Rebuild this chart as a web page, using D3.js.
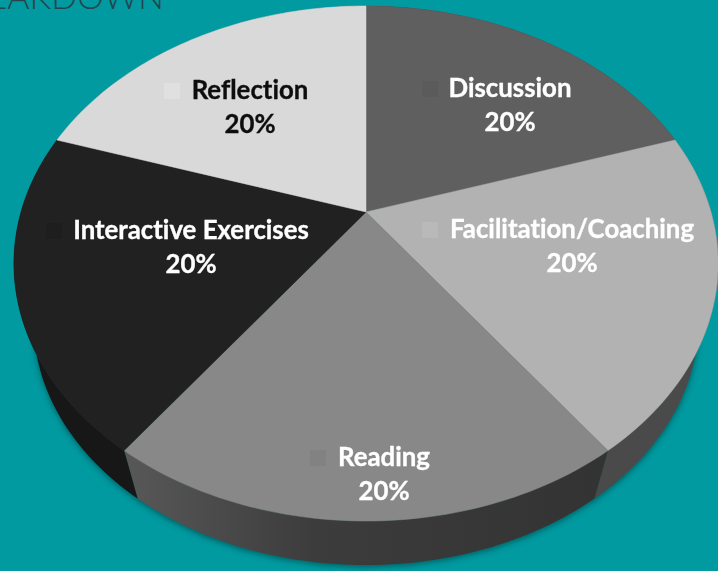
<!DOCTYPE html>
<html>
<head>
<meta charset="utf-8">
<script src="https://cdn.jsdelivr.net/npm/d3@7"></script>
<style>
  html, body { margin: 0; padding: 0; background: #019aa0; overflow: hidden; }
  text { font-family: Lato, "Open Sans", sans-serif; font-variant-ligatures: none; }
  .label { font-weight: 700; font-size: 25.8px; text-anchor: middle; stroke-width: 0.35px; }
</style>
</head>
<body>
<svg id="chart" width="718" height="571"></svg>
<script>
// values, clockwise from 12 o'clock
const categories = ["Discussion", "Facilitation/Coaching", "Reading", "Interactive Exercises", "Reflection"];
const shares = [20, 20, 20, 20, 20];

const topColors = ["#5f5f5f", "#b2b2b2", "#888888", "#212121", "#d9d9d9"];
const keyColors = ["#5b5b5b", "#b9b9b9", "#828282", "#1e1e1e", "#e0e0e0"];
const sideColors = ["#3a3a3a", "#4a4a4a", "url(#readingSide)", "#171717", "#777777"];
const textColors = ["#ffffff", "#ffffff", "#ffffff", "#ffffff", "#111111"];

// label centres, picked by eye
const labelX = [510, 572, 384, 191, 250];
const labelY = [97, 238, 466, 239, 99];
const keyOffset = [-88, -150, -74, -145, -86];

const svg = d3.select("#chart");
const defs = svg.append("defs");

const grad = defs.append("linearGradient")
    .attr("id", "readingSide")
    .attr("gradientUnits", "userSpaceOnUse")
    .attr("x1", 125).attr("x2", 600)
    .attr("y1", 0).attr("y2", 0);
grad.selectAll("stop")
    .data([[0, "#585858"], [0.4, "#3c3c3c"], [1, "#333333"]])
    .join("stop")
    .attr("offset", d => d[0])
    .attr("stop-color", d => d[1]);

defs.append("filter")
    .attr("id", "soft")
    .attr("x", "-10%").attr("y", "-10%").attr("width", "120%").attr("height", "120%")
    .append("feGaussianBlur")
    .attr("stdDeviation", 3);

defs.append("filter")
    .attr("id", "textSoft")
    .attr("x", "-10%").attr("y", "-30%").attr("width", "120%").attr("height", "160%")
    .append("feGaussianBlur")
    .attr("stdDeviation", 0.45);

// the pie is tilted with perspective, so map the flat circle through a projection
const cx = 366, cy = 212, rx = 345, ry = 247.2, tilt = -0.2;
function face(a) {
    const u = Math.sin(a), v = -Math.cos(a);
    const w = 1 + tilt * v;
    return [cx + rx * u / w, cy + ry * v / w];
}
// bottom rim: top rim pulled toward the vanishing point
const vanishY = 1307, depth = 0.944;
function rim(a) {
    const p = face(a);
    return [cx + (p[0] - cx) * depth, vanishY + (p[1] - vanishY) * depth];
}

const pie = d3.pie().sort(null);
const arcs = pie(shares);
const line = d3.line();

function sweep(d, fn) {
    const n = 60;
    return d3.range(n + 1).map(i => fn(d.startAngle + (d.endAngle - d.startAngle) * i / n));
}

// shadow on the background
svg.append("path")
    .attr("d", line(sweep({startAngle: 0, endAngle: 2 * Math.PI}, rim)) + "Z")
    .attr("transform", "translate(0, 2)")
    .style("fill", "#00484c")
    .style("opacity", 0.8)
    .style("filter", "url(#soft)");

// side walls
svg.append("g").selectAll("path.side")
    .data(arcs)
    .join("path")
    .classed("side", true)
    .attr("d", d => line(sweep(d, face).concat(sweep(d, rim).reverse())) + "Z")
    .style("fill", d => sideColors[d.index]);

// top face
svg.append("g").selectAll("path.slice")
    .data(arcs)
    .join("path")
    .classed("slice", true)
    .attr("d", d => line([[cx, cy]].concat(sweep(d, face))) + "Z")
    .style("fill", d => topColors[d.index])
    .style("stroke", d => topColors[d.index])
    .style("stroke-width", 0.5);

// legend keys
svg.append("g").selectAll("rect.key")
    .data(arcs)
    .join("rect")
    .classed("key", true)
    .attr("x", d => labelX[d.index] + keyOffset[d.index])
    .attr("y", d => labelY[d.index] - 16)
    .attr("width", 16)
    .attr("height", 16)
    .style("fill", d => keyColors[d.index]);

// labels
const labels = svg.append("g").style("filter", "url(#textSoft)");
labels.selectAll("text.name")
    .data(arcs)
    .join("text")
    .classed("label name", true)
    .attr("x", d => labelX[d.index])
    .attr("y", d => labelY[d.index])
    .style("fill", d => textColors[d.index])
    .style("stroke", d => textColors[d.index])
    .text(d => categories[d.index]);
labels.selectAll("text.pct")
    .data(arcs)
    .join("text")
    .classed("label pct", true)
    .attr("x", d => labelX[d.index])
    .attr("y", d => labelY[d.index] + 34)
    .style("fill", d => textColors[d.index])
    .style("stroke", d => textColors[d.index])
    .text(d => d.data + "%");

// slide title, cut off by the crop
svg.append("text")
    .attr("x", 164)
    .attr("y", 9)
    .attr("text-anchor", "end")
    .style("font-size", "34px")
    .style("font-weight", 300)
    .style("fill", "#24454c")
    .text("BREAKDOWN");
</script>
</body>
</html>
